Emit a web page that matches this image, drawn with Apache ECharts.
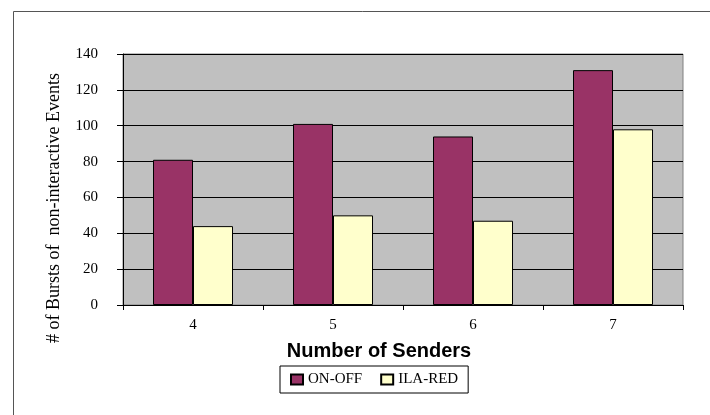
<!DOCTYPE html>
<html>
<head>
<meta charset="utf-8">
<script src="https://cdn.jsdelivr.net/npm/echarts@6/dist/echarts.min.js"></script>
<style>
    html, body { margin: 0; padding: 0; background: #fff; }
    #chart { width: 710px; height: 415px; }
</style>
</head>
<body>
<div id="chart"></div>
<script>
    // data
    var senders = ['4', '5', '6', '7'];
    var onOff = [81, 101, 94, 131];
    var ilaRed = [44, 50, 47, 98];

    var serif = '"Liberation Serif", "Times New Roman", serif';

    var chart = echarts.init(document.getElementById('chart'));
    chart.setOption({
        animation: false,
        backgroundColor: '#fff',
        grid: {
            left: 123,
            right: 27,
            top: 54,
            bottom: 110,
            show: true,
            backgroundColor: '#C0C0C0',
            borderColor: '#808080',
            borderWidth: 1
        },
        legend: {
            left: 280,
            top: 366,
            width: 199,
            height: 28,
            padding: [6, 10, 6, 10],
            itemGap: 18,
            itemWidth: 12,
            itemHeight: 10,
            icon: 'rect',
            borderColor: '#000',
            borderWidth: 1,
            textStyle: { fontFamily: serif, fontSize: 15, color: '#000' },
            data: ['ON-OFF', 'ILA-RED']
        },
        xAxis: {
            type: 'category',
            data: senders,
            axisLine: { lineStyle: { color: '#000' } },
            axisTick: { show: true, length: 5, lineStyle: { color: '#000' } },
            axisLabel: { margin: 13, fontFamily: serif, fontSize: 15, color: '#000' }
        },
        yAxis: {
            type: 'value',
            min: 0,
            max: 140,
            interval: 20,
            axisLine: { show: true, lineStyle: { color: '#000' } },
            axisTick: { show: true, length: 6, lineStyle: { color: '#000' } },
            axisLabel: { margin: 25, fontFamily: serif, fontSize: 15, color: '#000' },
            splitLine: { lineStyle: { color: '#000', width: 1 } }
        },
        series: [
            {
                name: 'ON-OFF',
                type: 'bar',
                data: onOff,
                barWidth: 40,
                barGap: 0,
                itemStyle: { color: '#993366', borderColor: '#000', borderWidth: 1 }
            },
            {
                name: 'ILA-RED',
                type: 'bar',
                data: ilaRed,
                barWidth: 40,
                itemStyle: { color: '#FFFFCC', borderColor: '#000', borderWidth: 1 }
            }
        ],
        graphic: [
            {
                type: 'rect',
                left: 11,
                top: 9,
                shape: { width: 720, height: 430 },
                style: { fill: 'none', stroke: '#555', lineWidth: 1 },
                silent: true
            },
            {
                type: 'text',
                x: 54,
                y: 208,
                rotation: Math.PI / 2,
                style: {
                    text: '# of Bursts of  non-interactive Events',
                    font: '18px ' + serif,
                    fill: '#000',
                    align: 'center',
                    verticalAlign: 'middle'
                }
            },
            {
                type: 'text',
                x: 379,
                y: 351,
                style: {
                    text: 'Number of Senders',
                    font: 'bold 20px "Liberation Sans", Arial, sans-serif',
                    fill: '#000',
                    align: 'center',
                    verticalAlign: 'middle'
                }
            }
        ]
    });
</script>
</body>
</html>
